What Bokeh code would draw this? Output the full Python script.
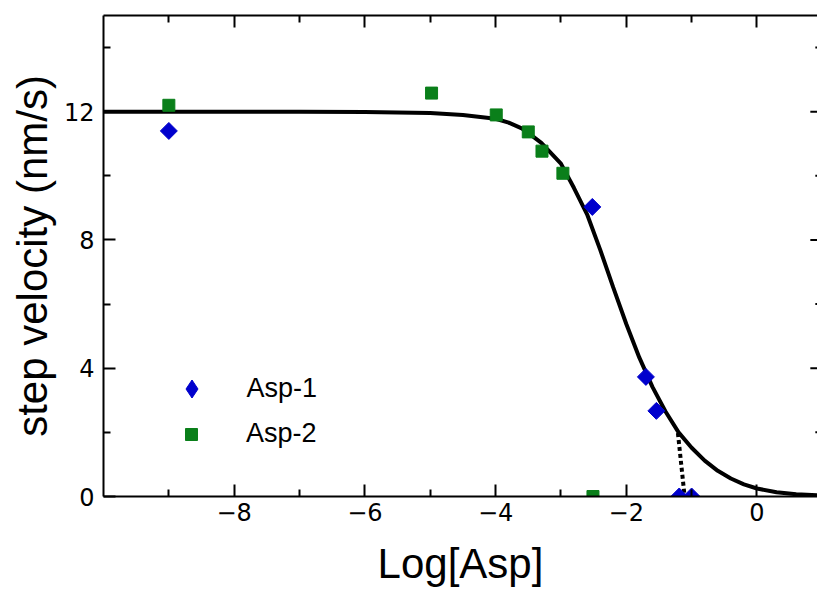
from bokeh.plotting import figure
from bokeh.models import (LinearAxis, Range1d, Legend, LegendItem, FixedTicker,
                          CustomJSTickFormatter)
from bokeh.embed import file_html
from bokeh.resources import INLINE
import math

# ---- data ----
asp1_x = [-9.0, -2.52, -1.70, -1.54, -1.19, -1.00]
asp1_y = [11.40, 9.03, 3.73, 2.67, 0.0, 0.0]

asp2_x = [-9.0, -4.98, -3.99, -3.50, -3.29, -2.97, -2.51]
asp2_y = [12.20, 12.58, 11.90, 11.37, 10.77, 10.08, 0.0]

fit_x = [-10.0, -7.0, -6.0, -5.0, -4.5, -4.0, -3.8, -3.6, -3.45, -3.3, -3.0, -2.8,
         -2.6, -2.4, -2.2, -2.0, -1.8, -1.6, -1.4, -1.2, -1.0, -0.8, -0.6, -0.4,
         -0.2, 0.0, 0.3, 0.6, 1.0]
fit_y = [12.00, 12.00, 11.99, 11.96, 11.90, 11.78, 11.66, 11.48, 11.26, 11.03, 10.38, 9.62,
         8.80, 7.70, 6.52, 5.38, 4.33, 3.42, 2.65, 2.00, 1.52, 1.12, 0.80, 0.56,
         0.38, 0.25, 0.13, 0.07, 0.03]

dot_x = [-1.21, -1.11]
dot_y = [1.98, 0.05]

x_major = [-8, -6, -4, -2, 0]
x_minor = [-9, -7, -5, -3, -1]
y_major = [0, 4, 8, 12]
y_minor = [2, 6, 10, 14]

BLUE = "#0000CD"
GREEN = "#0A7F1A"
FONT = "Liberation Sans"
TICK_FONT = "DejaVu Sans"

# ---- layout ----
W, H = 817, 590
LEFT, RIGHT, TOP, BOTTOM = 103, 0, 15, 94
X0, X1 = -10.0, 0.926      # visible x range; the axis box ends at 1.0, just off the picture
Y0, Y1 = 0.0, 15.0
X_BOX_END = 1.0

p = figure(width=W, height=H, output_backend="svg", toolbar_location=None,
           x_range=Range1d(X0, X1), y_range=Range1d(Y0, Y1),
           min_border_left=LEFT, min_border_right=RIGHT, min_border_top=TOP,
           min_border_bottom=BOTTOM, x_axis_label="Log[Asp]",
           y_axis_label="step velocity (nm/s)")
p.outline_line_color = None
p.grid.visible = False
p.background_fill_color = None
p.border_fill_color = "white"

blank = CustomJSTickFormatter(code="return ''")
xt = FixedTicker(ticks=x_major, minor_ticks=x_minor)
yt = FixedTicker(ticks=y_major, minor_ticks=y_minor)
xa = p.xaxis[0]
ya = p.yaxis[0]
xa.ticker = xt
ya.ticker = yt

for ax in (xa, ya):
    ax.axis_line_width = 2
    ax.axis_line_color = "black"
    ax.major_tick_line_color = "black"
    ax.minor_tick_line_color = "black"
    ax.major_tick_line_width = 2
    ax.minor_tick_line_width = 2
    ax.major_tick_in = 12
    ax.major_tick_out = 0
    ax.minor_tick_in = 7
    ax.minor_tick_out = 0
    ax.major_label_text_font = TICK_FONT
    ax.major_label_text_font_size = "24px"
    ax.major_label_text_color = "black"
    ax.axis_label_text_font = FONT
    ax.axis_label_text_font_size = "42px"
    ax.axis_label_text_font_style = "normal"
    ax.axis_label_text_color = "black"

xa.major_label_standoff = 6
xa.axis_label_standoff = 16
ya.major_label_standoff = 9
ya.axis_label_standoff = 5

top = LinearAxis(ticker=xt, formatter=blank, axis_line_width=2,
                 axis_line_color="black",
                 major_tick_line_color="black", minor_tick_line_color="black",
                 major_tick_line_width=2, minor_tick_line_width=2,
                 major_tick_in=12, major_tick_out=0,
                 minor_tick_in=7, minor_tick_out=0, major_label_standoff=0)
p.add_layout(top, "above")

# right-hand ticks: the right edge of the axis box lies just outside the picture,
# so only the inner ends of its ticks are seen
ux = (X1 - X0) / (W - LEFT - RIGHT)
MAJ, MIN = 12, 7
tick = dict(line_color="black", line_width=2)
p.segment(x0=[X_BOX_END] * len(y_major), y0=y_major,
          x1=[X_BOX_END - MAJ * ux] * len(y_major), y1=y_major, **tick)
p.segment(x0=[X_BOX_END] * len(y_minor), y0=y_minor,
          x1=[X_BOX_END - MIN * ux] * len(y_minor), y1=y_minor, **tick)

# ---- fit curve and dotted connector ----
p.line(fit_x, fit_y, line_color="black", line_width=4)
p.line(dot_x, dot_y, line_color="black", line_width=4, line_dash="4 3")

# legend-only diamond glyph (hidden under the first Asp-1 symbol)
r1_leg = p.scatter(asp1_x[:1], asp1_y[:1], marker="diamond", size=1,
                   fill_color=BLUE, line_color=BLUE)
r1 = p.scatter(asp1_x, asp1_y, marker="square", size=12, angle=math.pi / 4,
               fill_color=BLUE, line_color=BLUE)
r2 = p.scatter(asp2_x, asp2_y, marker="square", size=12,
               fill_color=GREEN, line_color=GREEN)

common = dict(border_line_color=None, background_fill_alpha=0, padding=0,
              margin=0, label_text_font=FONT, label_text_font_size="27px",
              label_text_color="black")
leg1 = Legend(items=[LegendItem(label="Asp-1", renderers=[r1_leg])],
              location=(65.5, 85), glyph_width=45, glyph_height=45,
              label_standoff=33, label_height=45, **common)
leg2 = Legend(items=[LegendItem(label="Asp-2", renderers=[r2])],
              location=(73, 47), glyph_width=30, glyph_height=30,
              label_standoff=40, label_height=30, **common)
p.add_layout(leg1)
p.add_layout(leg2)

open("out.html", "w").write(file_html(p, INLINE))
